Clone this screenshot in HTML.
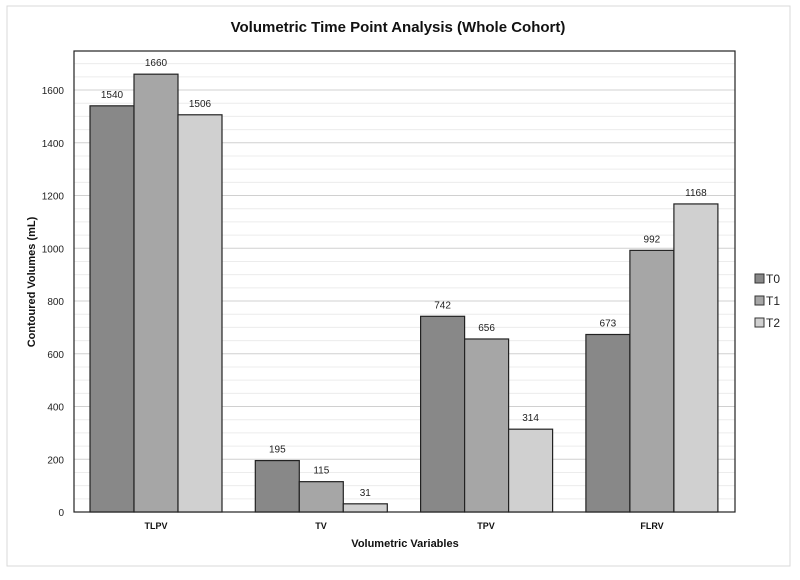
<!DOCTYPE html><html><head><style>body{margin:0;background:#fff}</style></head><body>
<svg width="800" height="575" xmlns="http://www.w3.org/2000/svg" font-family="Liberation Sans, sans-serif">
<rect x="0" y="0" width="800" height="575" fill="#fff"/>
<rect x="7" y="6" width="783" height="560" fill="none" stroke="#d9d9d9" stroke-width="1"/>
<text x="398" y="32" text-anchor="middle" font-size="15" font-weight="bold" fill="#111">Volumetric Time Point Analysis (Whole Cohort)</text>
<g id="grid"></g>
<rect x="74" y="51" width="661" height="461" fill="none" stroke="#222" stroke-width="1.2"/>
<g id="bars"></g>
<g font-size="10" fill="#222" text-anchor="end" id="yl"></g>
<text transform="translate(35,282) rotate(-90)" text-anchor="middle" font-size="11" font-weight="bold" fill="#111">Contoured Volumes (mL)</text>
<text x="405" y="547" text-anchor="middle" font-size="11" font-weight="bold" fill="#111">Volumetric Variables</text>
<g font-size="9" font-weight="bold" fill="#111" text-anchor="middle">
<text x="156" y="529">TLPV</text><text x="321" y="529">TV</text><text x="486" y="529">TPV</text><text x="652" y="529">FLRV</text></g>
<g font-size="12" fill="#222">
<rect x="755" y="274" width="9" height="9" fill="#888" stroke="#333"/><text x="766" y="283">T0</text>
<rect x="755" y="296" width="9" height="9" fill="#a6a6a6" stroke="#333"/><text x="766" y="305">T1</text>
<rect x="755" y="318" width="9" height="9" fill="#d0d0d0" stroke="#333"/><text x="766" y="327">T2</text></g>
<script>
var ns="http://www.w3.org/2000/svg",k=0.26375,y0=512;
function el(p,t,a,txt){var e=document.createElementNS(ns,t);for(var i in a)e.setAttribute(i,a[i]);if(txt!=null)e.textContent=txt;document.getElementById(p).appendChild(e);}
for(var v=50;v<1750;v+=50){var y=y0-v*k;el("grid","line",{x1:74,x2:735,y1:y,y2:y,stroke:v%200==0?"#d0d0d0":"#ececec","stroke-width":1});}
for(var v=0;v<=1600;v+=200)el("yl","text",{x:64,y:y0-v*k+4},v);
var d=[[1540,1660,1506],[195,115,31],[742,656,314],[673,992,1168]],c=["#888","#a6a6a6","#d0d0d0"];
for(var i=0;i<4;i++)for(var j=0;j<3;j++){var x=90+i*165.3+j*44,h=d[i][j]*k;
el("bars","rect",{x:x,y:y0-h,width:44,height:h,fill:c[j],stroke:"#222","stroke-width":1.2});
el("bars","text",{x:x+22,y:y0-h-8,"font-size":"10","text-anchor":"middle",fill:"#222"},d[i][j]);}
</script>
</svg></body></html>
